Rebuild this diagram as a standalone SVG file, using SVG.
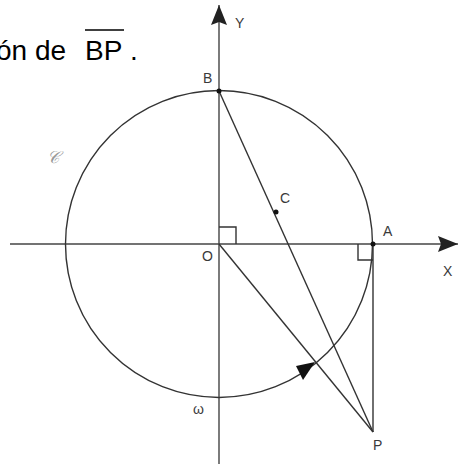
<svg xmlns="http://www.w3.org/2000/svg" width="460" height="464" viewBox="0 0 460 464">
<style>
.ln{stroke:#333;stroke-width:1.4;fill:none}
.ax{stroke:#444;stroke-width:1.4;fill:none}
.lb{font-family:"Liberation Sans",Arial,sans-serif;font-size:14px;fill:#3a3a3a}
.big{font-family:"Liberation Sans",Arial,sans-serif;font-size:28px;fill:#000}
.pt{fill:#111}
</style>
<defs>
<marker id="ah" markerWidth="22" markerHeight="16" refX="20" refY="8" orient="auto" markerUnits="userSpaceOnUse">
<path d="M0,0 L20,8 L0,16 L3,8 Z" fill="#222"/>
</marker>
</defs>
<rect width="460" height="464" fill="#fff"/>
<g id="title">
<text class="big" x="-4" y="60">ón de</text>
<text class="big" x="85" y="60">BP</text>
<line x1="85" y1="30" x2="124" y2="30" stroke="#000" stroke-width="1.6"/>
<text class="big" x="130" y="60">.</text>
</g>
<g id="connectors">
<line id="xaxis" class="ax" x1="10" y1="244" x2="458" y2="244" marker-end="url(#ah)"/>
<line id="yaxis" class="ax" x1="219" y1="464" x2="219" y2="5" marker-end="url(#ah)"/>
<circle id="circle" class="ln" cx="219" cy="244" r="153.5"/>
<line class="ln" x1="219" y1="91" x2="373" y2="432"/>
<line class="ln" x1="219" y1="244" x2="373" y2="432"/>
<line class="ln" x1="373" y1="244" x2="373" y2="432"/>
<polyline class="ln" points="219,227 236,227 236,244"/>
<polyline class="ln" points="358,244 358,260 373,260"/>
<polygon points="315,362 296,366 303,380" fill="#111"/>
</g>
<g id="points">
<circle class="pt" cx="219" cy="91" r="2.5"/>
<circle class="pt" cx="276" cy="212" r="2.5"/>
<circle class="pt" cx="373" cy="244" r="2.5"/>
</g>
<g id="labels">
<text class="lb" x="203" y="83">B</text>
<text class="lb" x="280" y="203">C</text>
<text class="lb" x="202" y="261">O</text>
<text class="lb" x="383" y="236">A</text>
<text class="lb" x="443" y="276">X</text>
<text class="lb" x="235" y="28" font-size="15">Y</text>
<text class="lb" x="373" y="450" font-size="15">P</text>
<text class="lb" x="193" y="414" font-size="9" fill="#777">ω</text>
<text x="47" y="163" font-family="'Liberation Serif',serif" font-style="italic" font-size="17" fill="#999">𝒞</text>
</g>
</svg>
